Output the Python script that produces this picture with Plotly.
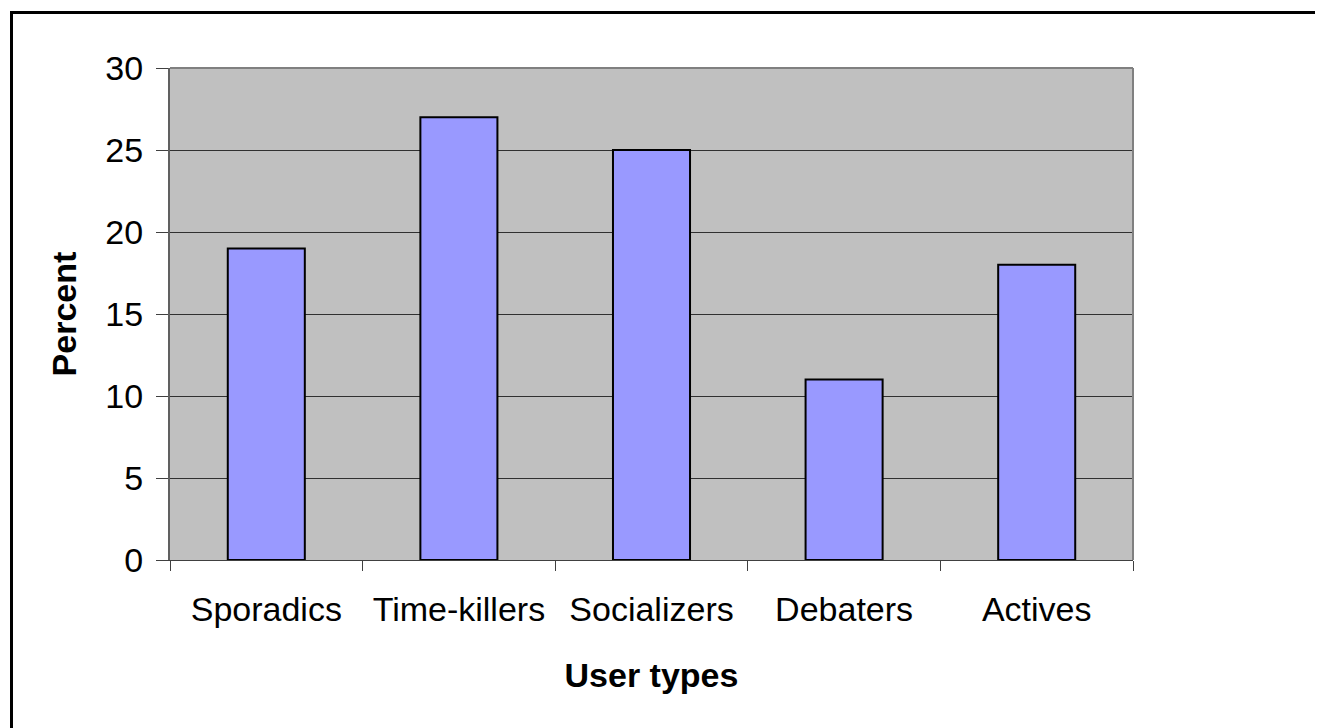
import plotly.graph_objects as go

categories = ["Sporadics", "Time-killers", "Socializers", "Debaters", "Actives"]
percent = [19, 27, 25, 11, 18]
y_ticks = [0, 5, 10, 15, 20, 25, 30]

# page offset of the plot div (default body margin)
OFF = 8
W, H = 1323 - OFF, 728 - OFF
# plot area in page pixels: x 170..1133, y 68..560
L, R, T, B = 170 - OFF, 1323 - 1133, 68 - OFF, 728 - 560
pw, ph = 1133 - 170, 560 - 68

def px_x(page_x):
    return (page_x - 170) / pw

def px_y(page_y):
    return (560 - page_y) / ph

fig = go.Figure(go.Bar(
    x=categories, y=percent,
    width=0.4,
    marker=dict(color="#9999FF", line=dict(color="#000000", width=2)),
))

font = "Liberation Sans, Arial, sans-serif"
FS = 34

fig.update_layout(
    width=W, height=H,
    margin=dict(l=L, r=R, t=T, b=B, pad=0),
    paper_bgcolor="#FFFFFF",
    plot_bgcolor="#C0C0C0",
    showlegend=False,
    font=dict(family=font, size=FS, color="#000000"),
    xaxis=dict(
        type="category",
        tickson="boundaries",
        ticks="outside", ticklen=10, tickwidth=1, tickcolor="#404040",
        showline=True, linecolor="#404040", linewidth=1,
        showgrid=False,
        ticklabelstandoff=19,
        tickfont=dict(size=FS),
        title=dict(text="<b>User types</b>", font=dict(size=FS), standoff=36),
    ),
    yaxis=dict(
        range=[0, 30],
        tickvals=y_ticks,
        ticks="outside", ticklen=12, tickwidth=1, tickcolor="#404040",
        showline=True, linecolor="#606060", linewidth=2,
        showgrid=True, gridcolor="#303030", gridwidth=1,
        zeroline=False,
        ticklabelstandoff=6,
        tickfont=dict(size=FS),
        title=dict(text="<b>Percent</b>", font=dict(size=FS), standoff=18),
    ),
    shapes=[
        # plot-area top and right border
        dict(type="line", xref="paper", yref="paper", x0=0, x1=1, y0=1, y1=1,
             line=dict(color="#808080", width=2)),
        dict(type="line", xref="paper", yref="paper", x0=1, x1=1, y0=0, y1=1,
             line=dict(color="#808080", width=2)),
        # outer frame (top and left)
        dict(type="line", xref="paper", yref="paper",
             x0=px_x(10), x1=px_x(1330), y0=px_y(12.5), y1=px_y(12.5),
             line=dict(color="#000000", width=3)),
        dict(type="line", xref="paper", yref="paper",
             x0=px_x(11.5), x1=px_x(11.5), y0=px_y(11), y1=px_y(735),
             line=dict(color="#000000", width=3)),
    ],
)

fig.write_html("out.html")
